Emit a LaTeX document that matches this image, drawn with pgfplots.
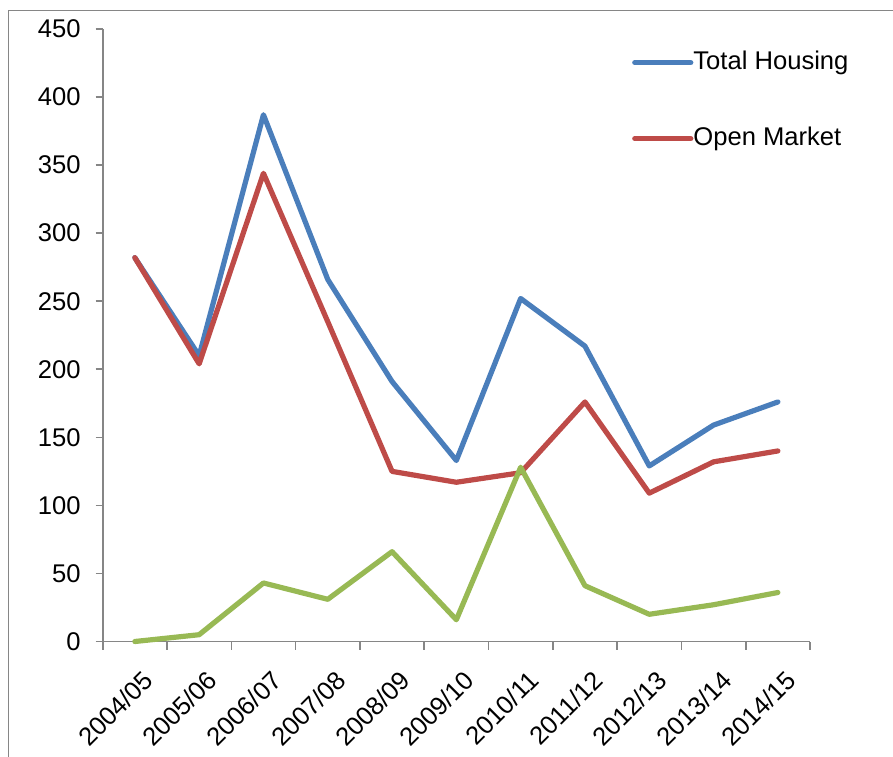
\documentclass[border=0pt]{standalone}
\usepackage{pgfplots}
\pgfplotsset{compat=1.18}
\usepackage{fontspec}
\setmainfont{Liberation Sans}
\definecolor{cblue}{RGB}{74,126,187}
\definecolor{cred}{RGB}{190,75,72}
\definecolor{cgreen}{RGB}{152,185,84}
\definecolor{axgray}{RGB}{134,134,134}
\begin{document}
\begin{tikzpicture}
\path[use as bounding box] (0,0) rectangle (446.5pt,378pt);
\draw[axgray, line width=0.8pt] (4.25pt,-1pt) -- (4.25pt,372.75pt) -- (447pt,372.75pt);
\begin{axis}[
  at={(51.35pt,57.25pt)}, anchor=south west,
  scale only axis, width=353.65pt, height=306.25pt,
  xmin=-0.5, xmax=10.5, ymin=0, ymax=450,
  axis x line=bottom, axis y line=left,
  axis line style={axgray, line width=0.8pt, -},
  xtick={0,...,10},
  xticklabels={2004/05,2005/06,2006/07,2007/08,2008/09,2009/10,2010/11,2011/12,2012/13,2013/14,2014/15},
  minor xtick={-0.5,0.5,...,10.5},
  major x tick style={draw=none},
  minor x tick style={axgray, line width=0.8pt},
  ytick={0,50,...,450},
  y tick style={axgray, line width=0.8pt},
  tick align=outside,
  major tick length=3.5pt, minor tick length=4pt,
  tick label style={font=\fontsize{12.8}{15}\selectfont},
  /pgf/number format/assume math mode=true,
  yticklabel style={xshift=-4pt},
  xticklabel style={xshift=3.3pt, yshift=-10pt, rotate=45, anchor=north east, inner sep=0pt},
  legend style={draw=none, fill=none, at={(rel axis cs:0.748,0.883)}, anchor=west,
    inner sep=0pt, row sep=25.8pt, font=\fontsize{12.8}{15}\selectfont,
    nodes={inner xsep=0pt, inner ysep=0pt, text height=9.5pt, text depth=2.7pt}},
  legend cell align=left,
  legend image code/.code={\draw[#1, line cap=round] (0pt,0pt) -- (28pt,0pt);},
  every axis plot/.append style={line width=2.6pt, line join=round, line cap=round},
  clip=false,
]
\addplot[cblue] coordinates {(0,282) (1,210) (2,387) (3,266) (4,191) (5,133) (6,252) (7,217) (8,129) (9,159) (10,176)};
\addlegendentry{Total Housing}
\addplot[cred] coordinates {(0,282) (1,204) (2,344) (3,235) (4,125) (5,117) (6,124) (7,176) (8,109) (9,132) (10,140)};
\addlegendentry{Open Market}
\addplot[cgreen, forget plot] coordinates {(0,0) (1,5) (2,43) (3,31) (4,66) (5,16) (6,128) (7,41) (8,20) (9,27) (10,36)};
\end{axis}
\end{tikzpicture}
\end{document}
